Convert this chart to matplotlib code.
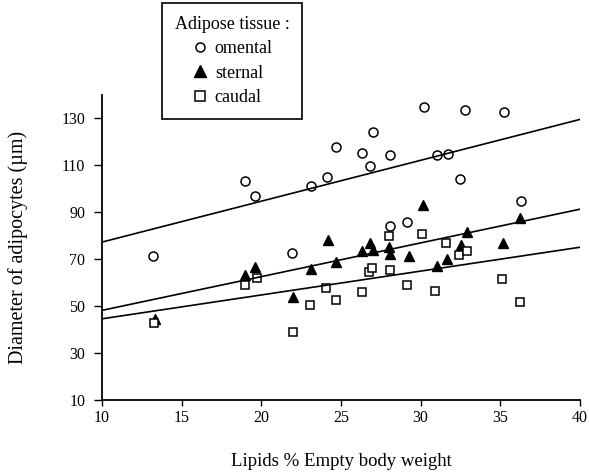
import numpy as np
import matplotlib
matplotlib.use("Agg")
import matplotlib.pyplot as plt
from matplotlib.lines import Line2D

plt.rcParams['font.family'] = ['Liberation Serif', 'DejaVu Serif']

# lipids (% empty body weight) and adipocyte diameter (um)
omental_x = [13.2, 19.0, 19.6, 21.9, 23.1, 24.1, 24.7, 26.3, 26.8, 27.0,
             28.1, 28.1, 29.15, 30.2, 31.0, 31.7, 32.45, 32.8, 35.2, 36.3]
omental_y = [71.4, 103.3, 96.9, 72.7, 100.9, 104.9, 117.8, 115.2, 109.6, 124.0,
             114.1, 84.0, 85.7, 134.6, 114.4, 114.7, 104.2, 133.4, 132.4, 94.7]

sternal_x = [13.3, 19.0, 19.6, 22.0, 23.1, 24.2, 24.7, 26.3, 26.8, 27.0,
             28.0, 28.1, 29.25, 30.17, 31.0, 31.66, 32.5, 32.9, 35.17, 36.26]
sternal_y = [44.3, 63.1, 66.5, 54.0, 65.6, 78.2, 68.6, 73.3, 76.9, 73.8,
             75.2, 72.1, 71.3, 93.0, 67.0, 69.9, 76.0, 81.6, 76.9, 87.3]

caudal_x = [13.24, 19.0, 19.7, 21.97, 23.08, 24.06, 24.67, 26.34, 26.78, 26.95,
            28.04, 28.1, 29.17, 30.09, 30.93, 31.57, 32.43, 32.93, 35.09, 36.24]
caudal_y = [42.6, 59.1, 62.0, 39.1, 50.3, 57.5, 52.6, 55.8, 64.3, 66.0,
            79.8, 65.2, 59.1, 80.6, 56.5, 76.9, 71.6, 73.3, 61.5, 51.8]

# regression lines as printed (intercept at x=0, slope)
line_intercept = [59.8, 33.8, 34.4]
line_slope = [1.74, 1.435, 1.015]

xticks = [10, 15, 20, 25, 30, 35, 40]
yticks = [10, 30, 50, 70, 90, 110, 130]

fig = plt.figure(figsize=(5.89, 4.75), dpi=100)
ax = fig.add_axes([102/589, 1 - 400/475, 478/589, 305.5/475])

ax.plot(omental_x, omental_y, 'o', mfc='white', mec='black', mew=1.1, ms=6.5, ls='none')
ax.plot(sternal_x, sternal_y, '^', mfc='black', mec='black', ms=7.5, ls='none')
ax.plot(caudal_x, caudal_y, 's', mfc='white', mec='black', mew=1.1, ms=6.3, ls='none')

xx = np.array([10, 40])
for b, m in zip(line_intercept, line_slope):
    ax.plot(xx, b + m * xx, color='black', lw=1.2)

ax.set_xlim(10, 40)
ax.set_ylim(10, 140)
ax.set_xticks(xticks)
ax.set_yticks(yticks)
ax.tick_params(axis='x', direction='out', length=4, width=1, labelsize=11.5, pad=3)
ax.tick_params(axis='y', direction='out', length=6, width=1, labelsize=11.5, pad=6)
for s in ['top', 'right']:
    ax.spines[s].set_visible(False)
for s in ['left', 'bottom']:
    ax.spines[s].set_linewidth(1.3)

ax.set_xlabel('Lipids % Empty body weight', fontsize=13.5, labelpad=20)
ax.set_ylabel('Diameter of adipocytes (µm)', fontsize=14.5)
ax.yaxis.set_label_coords(-0.155, 0.5)

handles = [
    Line2D([], [], marker='o', ls='none', mfc='white', mec='black', mew=1.1, ms=6.5),
    Line2D([], [], marker='^', ls='none', mfc='black', mec='black', ms=8),
    Line2D([], [], marker='s', ls='none', mfc='white', mec='black', mew=1.1, ms=6.5),
]
leg = ax.legend(handles, ['omental', 'sternal', 'caudal'], title='Adipose tissue :',
                loc='upper left', bbox_to_anchor=(162/589, 1 - 3/475),
                bbox_transform=fig.transFigure, borderaxespad=0,
                fancybox=False, edgecolor='black', framealpha=1,
                fontsize=13, title_fontsize=13, handlelength=1.0,
                handletextpad=0.3, borderpad=0.7, labelspacing=0.42)
leg.get_frame().set_linewidth(1.2)

fig.savefig('out.png', dpi=100)
